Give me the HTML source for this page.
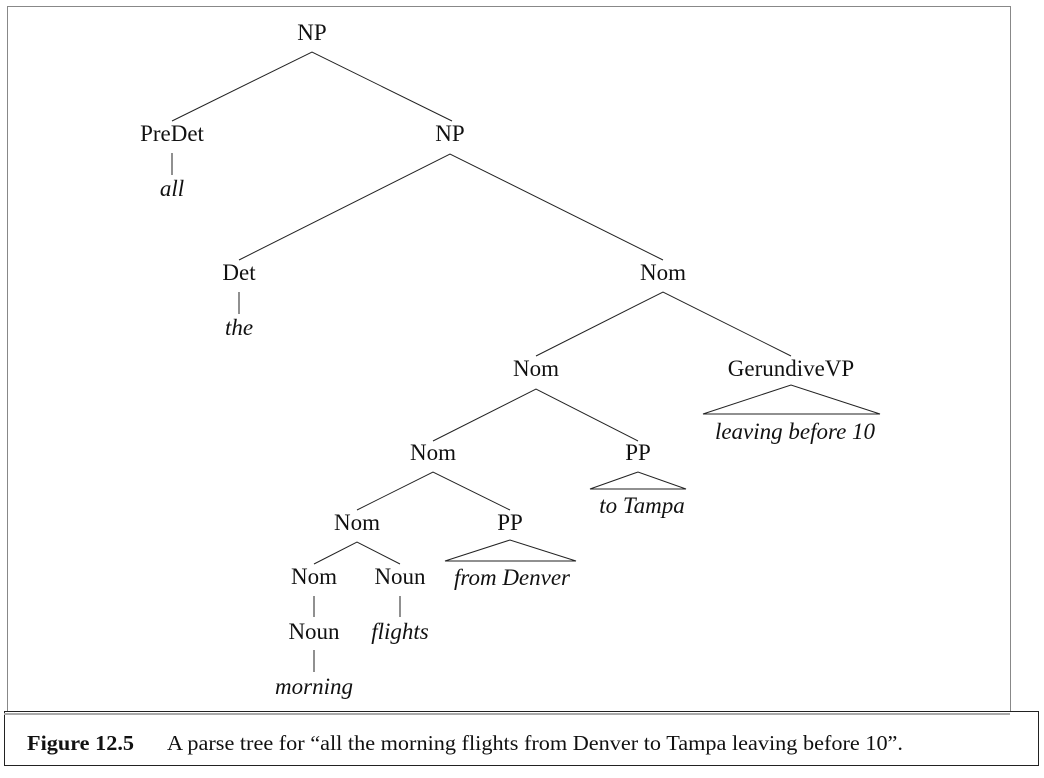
<!DOCTYPE html>
<html><head><style>
body{margin:0;background:#fff;}
svg text{font-family:"Liberation Serif",serif;font-size:23px;fill:#111;}
</style></head><body>
<svg width="1044" height="773" xmlns="http://www.w3.org/2000/svg">
<rect x="7.5" y="6.5" width="1003" height="706" fill="none" stroke="#888" stroke-width="1"/>
<rect x="4.5" y="711.5" width="1034" height="54" fill="#fff" stroke="#222" stroke-width="1"/>
<line x1="4" y1="714" x2="1010" y2="714" stroke="#aaa" stroke-width="2"/>
<g stroke="#222" stroke-width="1" fill="none">
<path d="M172,121 L312,52 L452,121"/>
<path d="M239,260 L450,154 L663,260"/>
<path d="M536,356 L663,292 L791,356"/>
<path d="M433,441 L536,389 L638,441"/>
<path d="M357,510 L433,472 L510,510"/>
<path d="M314,564 L357,542 L400,564"/>
<path d="M172,153 V175 M239,292 V314 M314,596 V617 M400,596 V617 M314,650 V672"/>
<path d="M703,414 L791,385 L880,414 Z"/>
<path d="M590,489 L638,472 L686,489 Z"/>
<path d="M445,561 L510,540 L576,561 Z"/>
</g>
<g text-anchor="middle">
<text x="312" y="40">NP</text>
<text x="172" y="141">PreDet</text>
<text x="172" y="196" font-style="italic">all</text>
<text x="450" y="141">NP</text>
<text x="239" y="280">Det</text>
<text x="239" y="335" font-style="italic">the</text>
<text x="663" y="280">Nom</text>
<text x="536" y="376">Nom</text>
<text x="791" y="376">GerundiveVP</text>
<text x="795" y="439" font-style="italic">leaving before 10</text>
<text x="433" y="460">Nom</text>
<text x="638" y="460">PP</text>
<text x="642" y="513" font-style="italic">to Tampa</text>
<text x="357" y="530">Nom</text>
<text x="510" y="530">PP</text>
<text x="512" y="585" font-style="italic">from Denver</text>
<text x="314" y="584">Nom</text>
<text x="400" y="584">Noun</text>
<text x="314" y="639">Noun</text>
<text x="400" y="639" font-style="italic">flights</text>
<text x="314" y="694" font-style="italic">morning</text>
</g>
<text x="27" y="750" style="font-size:21px;font-weight:bold" textLength="107" lengthAdjust="spacingAndGlyphs">Figure 12.5</text>
<text x="167" y="750" style="font-size:21px" textLength="736" lengthAdjust="spacingAndGlyphs">A parse tree for “all the morning flights from Denver to Tampa leaving before 10”.</text>
</svg>
</body></html>
